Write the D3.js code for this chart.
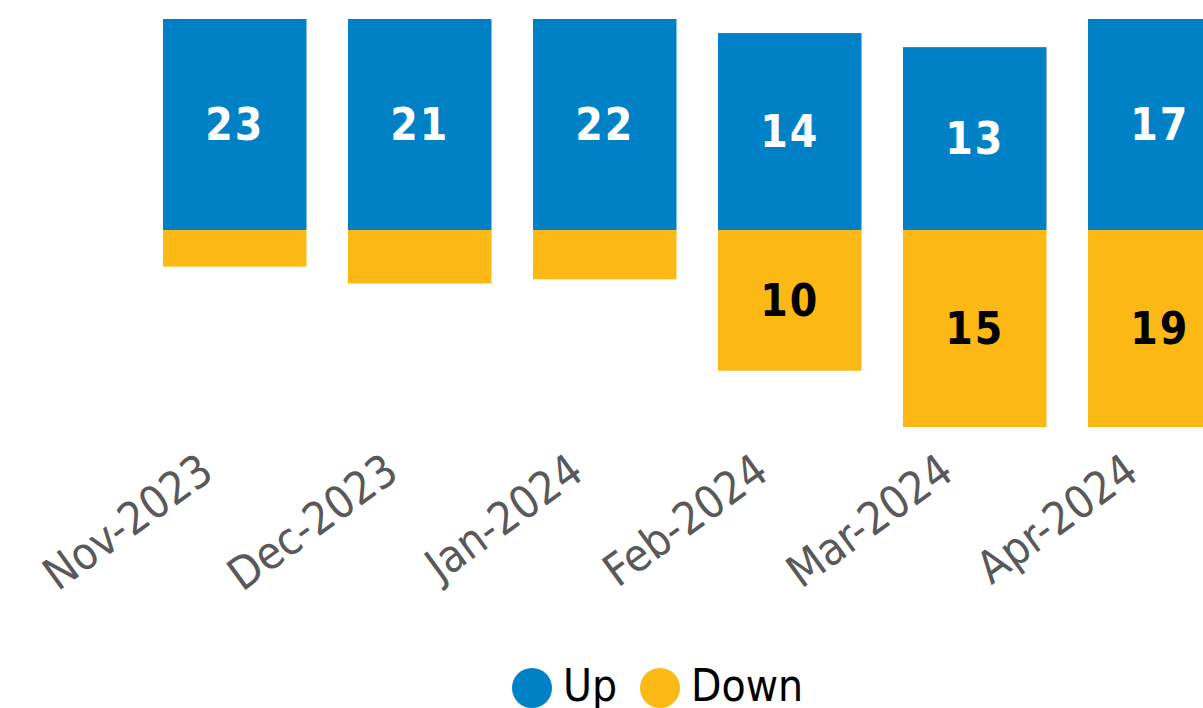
<!DOCTYPE html>
<html>
<head>
<meta charset="utf-8">
<script src="https://cdn.jsdelivr.net/npm/d3@7/dist/d3.min.js"></script>
<style>
  html, body { margin: 0; padding: 0; background: #ffffff; overflow: hidden; }
  svg { display: block; }
  text { font-family: "DejaVu Sans Condensed", "DejaVu Sans", Lato, sans-serif; }
</style>
</head>
<body>
<svg id="chart" width="1203" height="708"></svg>
<script>
// Monthly counts of up and down movements
const months = ["Nov-2023", "Dec-2023", "Jan-2024", "Feb-2024", "Mar-2024", "Apr-2024"];
const upValues = [23, 21, 22, 14, 13, 17];
const downValues = [2.6, 3.8, 3.5, 10, 15, 19];
const seriesNames = ["Up", "Down"];
const seriesColors = ["#0081c6", "#fcb815"];
const labelColors = ["#ffffff", "#000000"];

const svg = d3.select("#chart");

// Category bands, step 185 px
const x = d3.scaleBand()
  .domain(months)
  .range([142.25, 1252.25])
  .paddingInner(0.2243)
  .paddingOuter(0.11215);

// Value axis limits clip tall bars at the plot edges
const y = d3.scaleLinear()
  .domain([-14, 15])
  .range([427, 19])
  .clamp(true);

const rows = months.map((m, i) => ({ month: m, up: upValues[i], down: downValues[i] }));

const plot = svg.append("g");

// Up bars above the zero line
plot.selectAll("rect.up")
  .data(rows)
  .join("rect")
  .attr("class", "up")
  .attr("x", d => x(d.month))
  .attr("width", x.bandwidth())
  .attr("y", d => y(d.up))
  .attr("height", d => y(0) - y(d.up))
  .attr("fill", seriesColors[0]);

// Down bars below the zero line
plot.selectAll("rect.down")
  .data(rows)
  .join("rect")
  .attr("class", "down")
  .attr("x", d => x(d.month))
  .attr("width", x.bandwidth())
  .attr("y", y(0))
  .attr("height", d => y(-d.down) - y(0))
  .attr("fill", seriesColors[1]);

// Value labels centred in the visible part of each bar
const minLabel = 5;
plot.selectAll("text.up-label")
  .data(rows.filter(d => d.up >= minLabel))
  .join("text")
  .attr("class", "up-label")
  .attr("x", d => x(d.month) + x.bandwidth() / 2)
  .attr("y", d => (y(d.up) + y(0)) / 2)
  .attr("dy", "0.36em")
  .attr("text-anchor", "middle")
  .attr("font-size", 44)
  .attr("font-weight", "bold")
  .attr("letter-spacing", 2)
  .attr("fill", labelColors[0])
  .text(d => d.up);

plot.selectAll("text.down-label")
  .data(rows.filter(d => d.down >= minLabel))
  .join("text")
  .attr("class", "down-label")
  .attr("x", d => x(d.month) + x.bandwidth() / 2)
  .attr("y", d => (y(0) + y(-d.down)) / 2)
  .attr("dy", "0.36em")
  .attr("text-anchor", "middle")
  .attr("font-size", 44)
  .attr("font-weight", "bold")
  .attr("letter-spacing", 2)
  .attr("fill", labelColors[1])
  .text(d => d.down);

// Category axis with rotated month labels
const xAxis = d3.axisBottom(x).tickSize(0).tickPadding(0);
const axisG = svg.append("g")
  .attr("transform", "translate(0,477)")
  .call(xAxis);
axisG.select(".domain").remove();
axisG.selectAll("text")
  .attr("font-size", 45)
  .attr("fill", "#595959")
  .attr("text-anchor", "end")
  .attr("y", 0)
  .attr("dy", 0)
  .attr("transform", "translate(-19,0) rotate(-36)");

// Legend
const legendX = [532, 660];
const legend = svg.append("g");
seriesNames.forEach((name, i) => {
  legend.append("circle")
    .attr("cx", legendX[i])
    .attr("cy", 688)
    .attr("r", 20)
    .attr("fill", seriesColors[i]);
  legend.append("text")
    .attr("x", legendX[i] + 31)
    .attr("y", 701)
    .attr("font-size", 44)
    .attr("fill", "#000000")
    .text(name);
});
</script>
</body>
</html>
